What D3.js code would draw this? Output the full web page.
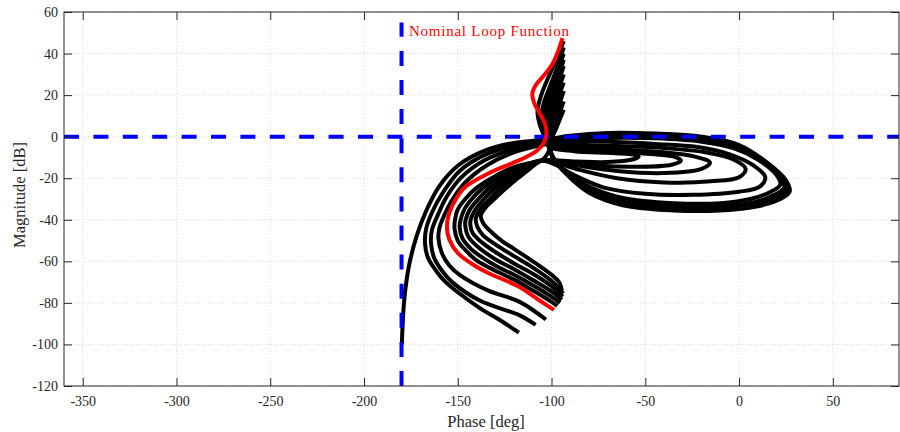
<!DOCTYPE html>
<html><head><meta charset="utf-8">
<script src="https://cdn.jsdelivr.net/npm/d3@7"></script>
<style>body{margin:0;background:#fff}svg{display:block}</style>
</head><body>
<svg id="c" width="900" height="432"></svg>
<script>
const xTicks = [-350,-300,-250,-200,-150,-100,-50,0,50];
const yTicks = [-120,-100,-80,-60,-40,-20,0,20,40,60];
const xLabel = "Phase [deg]";
const yLabel = "Magnitude [dB]";
const nominalLabel = "Nominal Loop Function";

// nominal loop (phase deg, magnitude dB)
const nominal = [[-94.2,47.4],[-96.5,41],[-99.5,35],[-104,29.5],[-108.3,25],[-110.2,21],[-109.4,16.5],[-106.5,11.5],[-103.6,6.5],[-102.7,2],[-103.8,-2.5],[-107.5,-6.5],[-114,-10],[-121,-12.8],[-133.5,-17.6],[-145.9,-24.1],[-151,-30],[-154.6,-36.9],[-155.8,-43.3],[-154.5,-49.5],[-150,-56],[-142,-61.5],[-133.5,-65.7],[-117.4,-72.2],[-106.7,-78.6],[-98.7,-83.4]];

// perturbed loops
const curveA = [[-93.5,46],[-97,38],[-101.5,29],[-105.5,20],[-107.5,12],[-106,5],[-103.5,-0.5],
[-99,-10],[-92,-18],[-80,-27],[-62,-33],[-35,-35.5],[-10,-35.5],[10,-33.5],[22,-30],[27,-26.5],
[25,-21],[15,-12.5],[0,-4],[-20,0],[-45,1.5],[-70,1.8],[-90,0.5],[-104,-1.5],
[-120,-3],[-135,-6.5],[-150,-14],[-160,-24],[-167,-36],[-172,-48],[-176,-62],[-178.5,-78],[-179.5,-92],[-179.8,-100]];
const curveB1 = [[-93.5,40],[-96.5,32],[-100,23],[-103,15],[-104.5,8],[-103.5,2],[-102,-2],
[-99,-10.5],[-92,-18],[-80,-26],[-62,-32],[-35,-34.5],[-10,-34.5],[9,-32.5],[21,-29],[25.5,-25.5],
[23.5,-20],[13.5,-12],[-1,-4.5],[-20,-0.8],[-45,0.7],[-70,1],[-90,-0.3],[-104,-2.3],
[-120,-4.5],[-135,-8.5],[-149,-16.5],[-158,-27],[-163.5,-36],[-166.8,-44],[-167.5,-51],
[-166,-58],[-162,-64],[-157,-69.5],[-139,-82],[-128,-88],[-117.4,-94.3]];
const curveB2 = [[-93.5,34],[-96,27],[-99,19.5],[-102,12],[-103,6],[-102,0.5],[-101.5,-2.5],
[-99,-11],[-92,-17.5],[-80,-25],[-62,-31],[-35,-33.5],[-10,-33.5],[8,-31.5],[19,-28],[24,-24.5],
[22,-19.5],[12,-11.5],[-2,-5],[-20,-1.6],[-45,0],[-70,0.2],[-90,-1],[-104,-3],
[-120,-6],[-135,-11],[-148,-19.5],[-156,-29],[-160.8,-38],[-163.8,-45],[-164.3,-51],
[-162.5,-58.5],[-158,-65],[-153,-70],[-138,-79],[-117,-86],[-108.5,-90.6]];
const curveB3 = [[-93.5,26],[-96,20],[-98.5,14],[-100.5,8],[-101.5,3],[-101,-1],[-101,-3.5],
[-99,-11],[-92,-17],[-80,-24],[-62,-29.5],[-35,-32],[-10,-32],[6,-30],[17,-26.5],[22,-23],
[20,-18.5],[10,-11],[-3,-5.5],[-20,-2.4],[-45,-0.8],[-70,-0.6],[-90,-1.7],[-104,-3.8],
[-120,-7.5],[-134,-13.5],[-146,-22],[-153,-30.5],[-157.3,-38],[-159.8,-44],[-160.3,-49],
[-158.5,-56],[-154.5,-62],[-149,-66.5],[-134,-74],[-117,-79.5],[-103,-88]];
const curveR1 = [[-93.5,43],[-96.5,34.5],[-100.5,25],[-104,16.5],[-105.5,9.5],[-104.5,3],[-102.5,-1.5],
[-90,-2],[-70,-2.5],[-45,-3.5],[-22,-5],[-5,-8.5],[8,-14],[14,-19.5],
[11,-24],[0,-26.5],[-25,-28],[-50,-27.5],[-72,-24.5],[-88,-18.5],[-98,-13.5],[-105,-11.5],
[-112,-12.8],[-121,-15],[-132,-20],[-140.5,-25],[-146,-30],[-150,-35],[-151.5,-40],[-151.7,-44.5],
[-150,-50],[-145,-55.5],[-140,-59.5],[-130,-64.5],[-120,-68.8],[-110,-74],[-100,-79.5],[-97,-81.5]];
const curveR2 = [[-93.5,37],[-96,29.5],[-99.5,21],[-102.5,13.5],[-104,7],[-103,1.5],[-101.5,-2],
[-90,-3.5],[-65,-4.5],[-40,-5.5],[-18,-7.5],[-3,-11],[3.5,-15.5],
[0,-19.5],[-15,-21.5],[-40,-22],[-65,-20],[-85,-16],[-98,-12.5],[-105,-11.5],
[-111.5,-13],[-119,-15],[-129,-20],[-137,-25],[-142.5,-30],[-146.5,-35],[-148.5,-40],[-149,-43.5],
[-147.5,-49],[-143,-54],[-138,-57.5],[-130,-62],[-120,-66.5],[-110,-71.5],[-100,-77],[-95.5,-80]];
const curveR3 = [[-93.5,30],[-96,23.5],[-99,16.5],[-101.5,10],[-102.5,4.5],[-101.5,0],[-101,-3],
[-88,-5],[-65,-6],[-40,-7.5],[-24,-9.5],[-15.5,-12.5],
[-20,-15.5],[-40,-17.5],[-65,-16.5],[-85,-14],[-98,-12],[-105,-11.5],
[-111,-13.2],[-117,-15],[-126,-20],[-133.5,-25],[-139,-30],[-143.5,-35],[-145.8,-40],[-146,-43],
[-144.5,-48],[-140,-52.5],[-130,-59],[-120,-63.8],[-110,-69],[-100,-74.5],[-94.5,-78.5]];
const curveR4 = [[-93.5,22],[-95.5,16.5],[-98,11],[-100,5.5],[-100.5,1.5],[-100.5,-4],
[-88,-6],[-65,-7.5],[-45,-8.5],[-34,-9.8],[-31,-11.5],
[-36,-13.5],[-55,-14.5],[-75,-14],[-92,-12.5],[-105,-11.5],
[-110.5,-13.5],[-115,-15],[-123,-20],[-130.5,-25],[-136,-30],[-140.5,-35],[-143,-39.5],[-143.3,-42.5],
[-142,-46.5],[-137,-51],[-130,-55.5],[-120,-61],[-110,-66],[-100,-72],[-94,-77]];
const curveR5 = [[-93.5,17],[-95.5,12],[-97.5,7],[-99.5,2.5],[-100.5,-1.5],[-100.5,-5],
[-88,-7],[-70,-7.8],[-59,-8.3],[-53.5,-9.5],
[-57,-11],[-70,-12.2],[-87,-12],[-105,-11.5],
[-109.5,-13.5],[-113,-15],[-120.5,-20],[-127.5,-25],[-133,-30],[-138,-35],[-140.4,-39.5],
[-139.5,-43.5],[-136.5,-47.5],[-130,-51.8],[-120,-57.5],[-110,-63],[-100,-69.5],[-93.8,-75.5]];
const curveR6 = [[-93.5,13],[-95.5,8.5],[-97.5,4],[-99.5,0],[-100.5,-3.5],[-101.5,-7],[-104,-10.5],
[-108,-12.8],[-111,-15],[-118,-20],[-124.5,-25],[-130.5,-30],[-135.5,-34.5],[-137.7,-38],
[-136.5,-41.5],[-132,-46],[-126,-50.5],[-120,-54],[-110,-60],[-100,-66.5],[-96,-70],[-94.5,-74]];
const perturbed = [curveA, curveB1, curveB2, curveB3, curveR1, curveR2, curveR3, curveR4, curveR5, curveR6];

// reference lines
const critPhase = [[-180,-120],[-180,55]];
const zeroDb = [[-360,0],[85.3,0]];

const svg = d3.select("#c");
const L=64, R=899, T=12, B=386;
const x = d3.scaleLinear().domain([-360,85.3]).range([L,R]);
const y = d3.scaleLinear().domain([-120,60]).range([B,T]);
const axisCol = "#262626";
const font = "'Liberation Serif','Times New Roman',serif";
const fmt = d => String(d);

// grid
const g = svg.append("g");
g.selectAll(".gx").data(xTicks).enter().append("line")
 .attr("x1",d=>x(d)).attr("x2",d=>x(d)).attr("y1",T).attr("y2",B)
 .attr("stroke","#d4d4d4").attr("stroke-width",0.8).attr("stroke-dasharray","1,2");
g.selectAll(".gy").data(yTicks).enter().append("line")
 .attr("y1",d=>y(d)).attr("y2",d=>y(d)).attr("x1",L).attr("x2",R)
 .attr("stroke","#d4d4d4").attr("stroke-width",0.8).attr("stroke-dasharray","1,2");

const line = d3.line().x(d=>x(d[0])).y(d=>y(d[1])).curve(d3.curveCatmullRom.alpha(0.5));
const plot = svg.append("g");
plot.selectAll(".pc").data(perturbed).enter().append("path")
 .attr("d",line).attr("fill","none").attr("stroke","#000").attr("stroke-width",4)
 .attr("stroke-linejoin","round").attr("stroke-linecap","butt");

const straight = d3.line().x(d=>x(d[0])).y(d=>y(d[1]));
plot.append("path").attr("d",straight(critPhase)).attr("fill","none")
 .attr("stroke","#0000ff").attr("stroke-width",4).attr("stroke-dasharray","15,14.1");
plot.append("path").attr("d",straight(zeroDb)).attr("fill","none")
 .attr("stroke","#0000ff").attr("stroke-width",4).attr("stroke-dasharray","15,14.4");

plot.append("path").datum(nominal).attr("d",line).attr("fill","none")
 .attr("stroke","#ff0000").attr("stroke-width",4).attr("stroke-linejoin","round");

plot.append("text").attr("x",x(-176)).attr("y",y(48.3)).text(nominalLabel)
 .attr("fill","#ff0000").attr("font-family",font).attr("font-size",15)
 .attr("textLength",160).attr("lengthAdjust","spacing");

// axes box
svg.append("rect").attr("x",L).attr("y",T).attr("width",R-L).attr("height",B-T)
 .attr("fill","none").attr("stroke",axisCol).attr("stroke-width",1);

const xb = d3.axisBottom(x).tickValues(xTicks).tickSize(-8).tickPadding(10).tickFormat(fmt);
const xt = d3.axisTop(x).tickValues(xTicks).tickSize(-8).tickFormat("");
const yl = d3.axisLeft(y).tickValues(yTicks).tickSize(-8).tickPadding(6).tickFormat(fmt);
const yr = d3.axisRight(y).tickValues(yTicks).tickSize(-8).tickFormat("");
function style(sel){
  sel.select(".domain").remove();
  sel.selectAll("line").attr("stroke",axisCol);
  sel.selectAll("text").attr("fill",axisCol).attr("font-family",font).attr("font-size",14);
}
svg.append("g").attr("transform",`translate(0,${B})`).call(xb).call(style);
svg.append("g").attr("transform",`translate(0,${T})`).call(xt).call(style);
svg.append("g").attr("transform",`translate(${L},0)`).call(yl).call(style);
svg.append("g").attr("transform",`translate(${R},0)`).call(yr).call(style);

svg.append("text").attr("x",486).attr("y",427).attr("text-anchor","middle")
 .attr("font-family",font).attr("font-size",16.5).attr("fill",axisCol).text(xLabel);
svg.append("text").attr("transform",`translate(24.5,195) rotate(-90)`).attr("text-anchor","middle")
 .attr("font-family",font).attr("font-size",16.5).attr("fill",axisCol).text(yLabel);
</script>
</body></html>
